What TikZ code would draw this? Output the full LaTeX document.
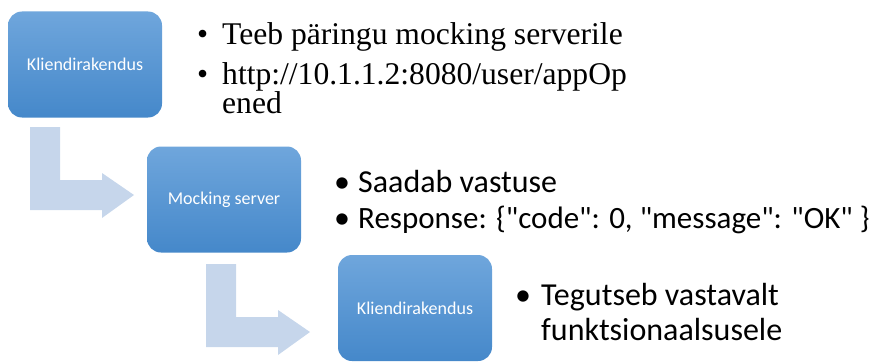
\documentclass[tikz,border=0pt]{standalone}
\usepackage{fontspec}
\setmainfont{Liberation Serif}
\newfontfamily\calibri{Carlito}
\usepackage{xcolor}
\usepackage{tikz}

\definecolor{boxtop}{HTML}{6FA6DC}
\definecolor{boxbot}{HTML}{4588CA}
\definecolor{bendfill}{HTML}{C6D6EB}

\tikzset{
  stagebox/.style={rounded corners=14pt, minimum width=154pt, minimum height=106pt,
    inner sep=0pt, top color=boxtop, bottom color=boxbot, draw=none,
    text=white, font=\calibri\fontsize{18}{20}\selectfont},
  serifline/.style={anchor=base west, inner sep=0pt, font=\fontsize{31.6}{34}\selectfont},
  sansline/.style={anchor=base west, inner sep=0pt, font=\calibri\fontsize{32}{34}\selectfont},
}
\newcommand\bentarrow[1]{%
  \fill[bendfill] (#1) -- ++(30,0) -- ++(0,53) -- ++(42,0) -- ++(0,-7)
    -- ++(32,22) -- ++(-32,23) -- ++(0,-8) -- ++(-72,0) -- cycle;}

\begin{document}
\begin{tikzpicture}[x=1pt,y=-1pt]
\useasboundingbox (0,0) rectangle (882,361);

% the three stages
\node at (85,64.5) (client)[stagebox]{Kliendirakendus};
\node at (224,199.5) (mock)[stagebox]{Mocking server};
\node at (415,308) (client2)[stagebox]{Kliendirakendus};

% bent arrows between the stages
\coordinate (bend1) at (30,127);
\coordinate (bend2) at (206,264);
\bentarrow{bend1}
\bentarrow{bend2}

% request
\node at (197,45) (b1)[serifline]{\textbullet};
\node at (222,45) (t1)[serifline]{Teeb päringu mocking serverile};
\node at (197,84) (b2)[serifline]{\textbullet};
\node at (222,84) (t2)[serifline]{http://10.1.1.2:8080/user/appOp};
\node at (222,113) (t2b)[serifline]{ened};

% response
\node at (334,192) (b3)[sansline]{•};
\node at (358,192) (t3)[sansline]{Saadab vastuse};
\node at (334,228) (b4)[sansline]{•};
\node at (358,228) (t4)[sansline, font=\calibri\fontsize{31}{34}\selectfont]{Response: \{"code": 0, "message": "OK" \}};

% result
\node at (515,305) (b5)[sansline]{•};
\node at (541,305) (t5)[sansline]{Tegutseb vastavalt};
\node at (541,340) (t5b)[sansline]{funktsionaalsusele};
\end{tikzpicture}
\end{document}
